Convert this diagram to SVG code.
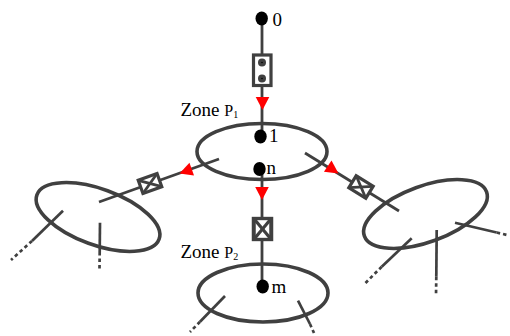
<svg xmlns="http://www.w3.org/2000/svg" xmlns:xlink="http://www.w3.org/1999/xlink" width="510" height="336" viewBox="0 0 510 336">
  <style>
    .zone { fill: none; stroke: #404040; stroke-width: 3.6; }
    .wire { fill: none; stroke: #404040; stroke-width: 2.8; stroke-linecap: butt; }
    .leg { fill: none; stroke: #404040; stroke-width: 2.7; }
    .legd { fill: none; stroke: #404040; stroke-width: 2.7; stroke-dasharray: 3.5 3; }
    .dot { fill: #000; }
    .box { fill: #fff; stroke: #404040; stroke-width: 3.2; }
    .cross { stroke: #404040; stroke-width: 2.8; }
    .arrow { fill: #ff0000; }
    .lbl { font-family: "Liberation Serif", "Times New Roman", serif; font-size: 19px; fill: #000; }
  </style>
  <defs>
    <!-- arrowhead pointing along +x, tip at origin -->
    <path id="tri" d="M0,0 L-13,-6.8 L-13,6.8 Z"/>
    <!-- valve box with a cross, long side along +x -->
    <g id="xbox">
      <rect class="box" x="-10" y="-7" width="20" height="14"/>
      <line class="cross" x1="-10" y1="-7" x2="10" y2="7"/>
      <line class="cross" x1="-10" y1="7" x2="10" y2="-7"/>
    </g>
  </defs>

  <!-- connectors -->
  <g id="connectors">
    <line class="wire" x1="262" y1="18" x2="262" y2="136"/>
    <line class="wire" x1="262" y1="169" x2="262" y2="286"/>
    <line class="wire" x1="219" y1="159" x2="99" y2="202"/>
    <line class="wire" x1="305" y1="153" x2="399" y2="211"/>

    <!-- double-dot box on the feed line -->
    <rect class="box" x="253.5" y="55" width="17.5" height="30.5"/>
    <circle cx="262" cy="62.5" r="4" fill="#404040"/>
    <circle cx="262" cy="78.5" r="4" fill="#404040"/>
    <circle cx="262" cy="62.5" r="0.8" fill="#000"/>
    <circle cx="262" cy="78.5" r="0.8" fill="#000"/>

    <!-- crossed boxes -->
    <use xlink:href="#xbox" transform="translate(262.5,229) rotate(90) scale(1.05,1.25)"/>
    <use xlink:href="#xbox" transform="translate(150,183.5) rotate(-19.7)"/>
    <use xlink:href="#xbox" transform="translate(361,187) rotate(31.7)"/>

    <!-- flow arrows -->
    <use xlink:href="#tri" class="arrow" transform="translate(262.5,110) rotate(90)"/>
    <use xlink:href="#tri" class="arrow" transform="translate(262,200) rotate(90)"/>
    <use xlink:href="#tri" class="arrow" transform="translate(179.5,173.5) rotate(160.3)"/>
    <use xlink:href="#tri" class="arrow" transform="translate(338.5,173.5) rotate(34)"/>
  </g>

  <!-- zone P1 -->
  <g id="zone-p1">
    <ellipse class="zone" cx="262" cy="151.5" rx="65" ry="28"/>
    <text class="lbl" x="180.5" y="116">Zone <tspan font-size="16">P</tspan><tspan font-size="10" dy="2">1</tspan></text>
  </g>

  <!-- zone P2 -->
  <g id="zone-p2">
    <ellipse class="zone" cx="263" cy="293" rx="65" ry="29"/>
    <text class="lbl" x="180.5" y="258">Zone <tspan font-size="16">P</tspan><tspan font-size="10" dy="2">2</tspan></text>
    <line class="leg" x1="225" y1="296" x2="200" y2="321.7"/>
    <line class="legd" x1="200" y1="321.7" x2="190" y2="332"/>
    <line class="leg" x1="298" y1="300.7" x2="310" y2="324"/>
    <line class="legd" x1="310" y1="324" x2="314" y2="333"/>
  </g>

  <!-- left zone -->
  <g id="zone-left">
    <ellipse class="zone" cx="98" cy="217" rx="65" ry="28" transform="rotate(20 98 217)"/>
    <line class="leg" x1="63" y1="210.7" x2="32" y2="241"/>
    <line class="legd" x1="32" y1="241" x2="11" y2="260"/>
    <line class="leg" x1="100" y1="222.7" x2="99.7" y2="252"/>
    <line class="legd" x1="99.7" y1="252" x2="99.5" y2="269"/>
  </g>

  <!-- right zone -->
  <g id="zone-right">
    <ellipse class="zone" cx="425.5" cy="214" rx="65" ry="28" transform="rotate(-20 425.5 214)"/>
    <line class="leg" x1="411.7" y1="238.3" x2="381.7" y2="266.7"/>
    <line class="legd" x1="381.7" y1="266.7" x2="365.5" y2="283"/>
    <line class="leg" x1="436.7" y1="230" x2="436.3" y2="276.7"/>
    <line class="legd" x1="436.3" y1="276.7" x2="436" y2="296"/>
    <line class="leg" x1="455" y1="222.7" x2="496.7" y2="232.5"/>
    <line class="legd" x1="496.7" y1="232.5" x2="509" y2="235.5"/>
  </g>

  <!-- nodes -->
  <g id="node-0">
    <ellipse class="dot" cx="261.7" cy="18.5" rx="6.2" ry="7"/>
    <text class="lbl" x="272.5" y="26">0</text>
  </g>
  <g id="node-1">
    <ellipse class="dot" cx="260.5" cy="136.5" rx="6.2" ry="7"/>
    <text class="lbl" x="269" y="142">1</text>
  </g>
  <g id="node-n">
    <ellipse class="dot" cx="259.5" cy="169" rx="6.2" ry="7"/>
    <text class="lbl" x="266.5" y="174">n</text>
  </g>
  <g id="node-m">
    <ellipse class="dot" cx="262.7" cy="286.5" rx="6.2" ry="7"/>
    <text class="lbl" x="271.5" y="292.5">m</text>
  </g>
</svg>
